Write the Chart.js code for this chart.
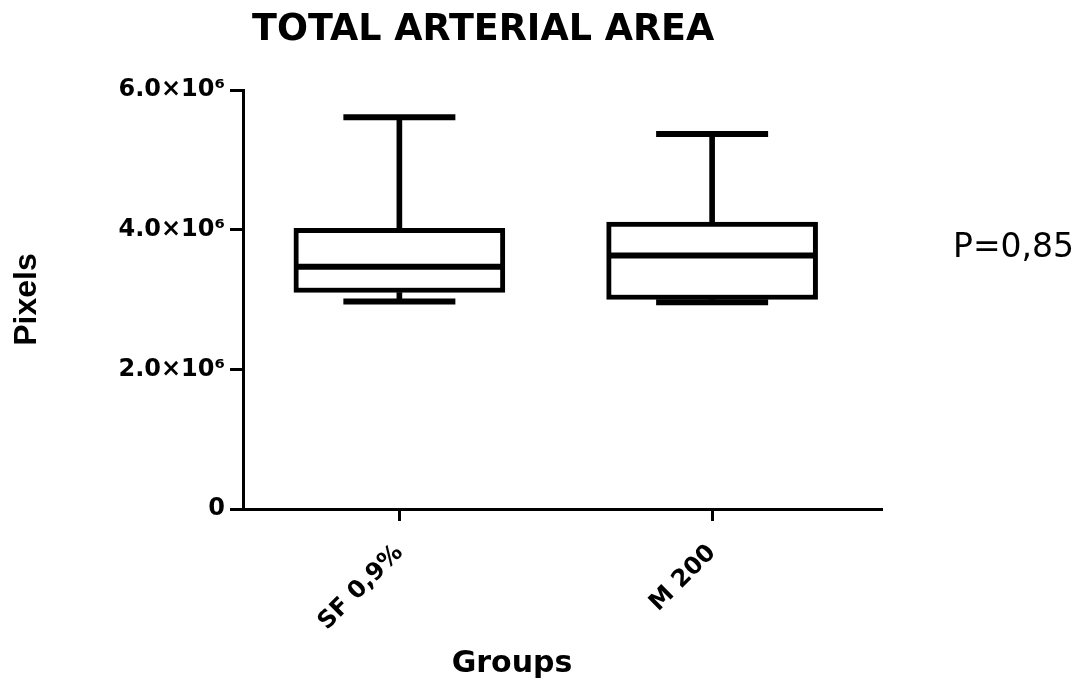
<!DOCTYPE html>
<html><head><meta charset="utf-8">
<script src="https://cdn.jsdelivr.net/npm/chart.js@4.4.1/dist/chart.umd.min.js"></script>
<style>html,body{margin:0;padding:0;background:#fff}#wrap{width:1088px;height:684px}</style>
</head><body>
<div id="wrap"><canvas id="c" width="1088" height="684"></canvas></div>
<script>
// ---- data ----
const categories = ['SF 0,9%', 'M 200'];
const groupX = [1, 2];
const whiskerMin = [2.97e6, 2.96e6];
const q1 = [3.10e6, 3.00e6];
const median = [3.47e6, 3.63e6];
const q3 = [4.02e6, 4.11e6];
const whiskerMax = [5.61e6, 5.37e6];
const yTickValues = [0, 2e6, 4e6, 6e6];
const yTickLabels = ['0', '2.0×10⁶', '4.0×10⁶', '6.0×10⁶'];
const chartTitle = 'TOTAL ARTERIAL AREA';
const xTitle = 'Groups';
const yTitle = 'Pixels';
const pText = 'P=0,85';

// ---- build datasets ----
const boxData = groupX.map((x, i) => ({x, y: [q1[i], q3[i]]}));
const whiskerHiData = groupX.map((x, i) => ({x, y: [q3[i], whiskerMax[i]]}));
const whiskerLoData = groupX.map((x, i) => ({x, y: [whiskerMin[i], q1[i]]}));
const medianData = groupX.map((x, i) => ({x, y: median[i]}));
const capHiData = groupX.map((x, i) => ({x, y: whiskerMax[i]}));
const capLoData = groupX.map((x, i) => ({x, y: whiskerMin[i]}));

const FONT = 'DejaVu Sans';

const textPlugin = {
  id: 'texts',
  afterDraw(chart) {
    const ctx = chart.ctx;
    ctx.save();
    ctx.fillStyle = '#000';
    ctx.textBaseline = 'alphabetic';
    ctx.textAlign = 'left';
    ctx.font = 'bold 36.5px "' + FONT + '"';
    ctx.fillText(chartTitle, 252, 40);
    ctx.textAlign = 'center';
    ctx.font = 'bold 30px "' + FONT + '"';
    ctx.fillText(xTitle, 512, 672);
    ctx.textAlign = 'left';
    ctx.font = '33px "' + FONT + '"';
    ctx.fillText(pText, 953, 257);
    ctx.restore();
  }
};

new Chart(document.getElementById('c'), {
  type: 'bar',
  data: {
    datasets: [
      {type: 'line', data: medianData, showLine: false, pointStyle: 'line', pointRadius: 103,
       pointBorderWidth: 6, pointBorderColor: '#000', order: 0},
      {type: 'bar', data: boxData, backgroundColor: '#fff', borderColor: '#000', borderWidth: 5,
       borderSkipped: false, barThickness: 211, grouped: false, order: 1},
      {type: 'line', data: capHiData, showLine: false, pointStyle: 'line', pointRadius: 56,
       pointBorderWidth: 6, pointBorderColor: '#000', order: 2},
      {type: 'line', data: capLoData, showLine: false, pointStyle: 'line', pointRadius: 56,
       pointBorderWidth: 6, pointBorderColor: '#000', order: 2},
      {type: 'bar', data: whiskerHiData, backgroundColor: '#000', borderWidth: 0,
       barThickness: 5, grouped: false, order: 3},
      {type: 'bar', data: whiskerLoData, backgroundColor: '#000', borderWidth: 0,
       barThickness: 5, grouped: false, order: 3}
    ]
  },
  options: {
    responsive: false,
    animation: false,
    events: [],
    layout: {autoPadding: false, padding: {top: 90, right: 207, bottom: 0, left: 0}},
    plugins: {legend: {display: false}, tooltip: {enabled: false}, title: {display: false}},
    scales: {
      x: {
        type: 'linear', min: 0.5, max: 2.54, offset: false,
        afterBuildTicks: s => { s.ticks = groupX.map(v => ({value: v})); },
        afterFit: s => { s.height = 175; },
        grid: {offset: false, drawOnChartArea: false, drawTicks: true, tickLength: 12, lineWidth: 3, color: '#000'},
        border: {display: true, width: 3, color: '#000'},
        ticks: {
          minRotation: 45, maxRotation: 45, padding: 18, color: '#000',
          font: {family: FONT, weight: 'bold', size: 24},
          callback: (v) => { const i = groupX.indexOf(v); return i >= 0 ? categories[i] : ''; }
        }
      },
      y: {
        type: 'linear', min: 0, max: 6e6,
        afterBuildTicks: s => { s.ticks = yTickValues.map(v => ({value: v})); },
        afterFit: s => { s.width = 243; },
        grid: {drawOnChartArea: false, drawTicks: true, tickLength: 13, lineWidth: 3, color: '#000'},
        border: {display: true, width: 3, color: '#000'},
        ticks: {
          padding: 5, color: '#000',
          font: {family: FONT, weight: 'bold', size: 24},
          callback: (v) => { const i = yTickValues.indexOf(v); return i >= 0 ? yTickLabels[i] : ''; }
        },
        title: {display: true, text: yTitle, color: '#000', padding: {top: 8, bottom: 0},
          font: {family: 'Liberation Sans', weight: 'bold', size: 32, lineHeight: 1.2}}
      }
    }
  },
  plugins: [textPlugin]
});
</script>
</body></html>
